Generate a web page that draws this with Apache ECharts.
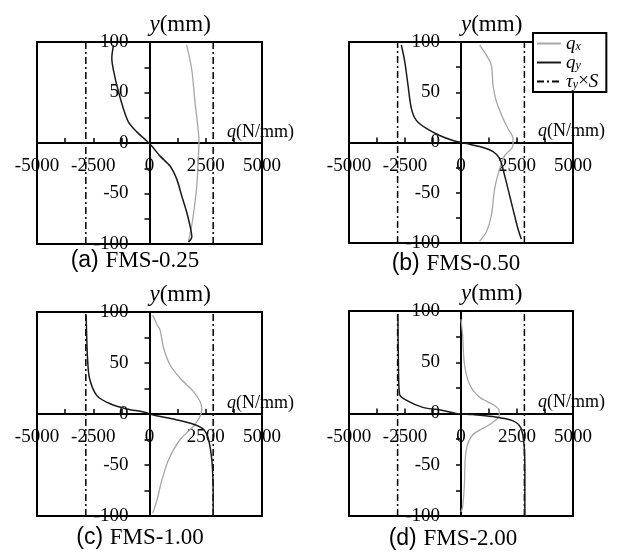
<!DOCTYPE html>
<html><head><meta charset="utf-8">
<script src="https://cdn.jsdelivr.net/npm/echarts@6/dist/echarts.min.js"></script>
<style>html,body{margin:0;padding:0;background:#fff}#c{width:617px;height:554px}</style>
</head><body><div id="c"></div>
<script>
// ---- data ----
const xTicks = [-5000, -2500, 0, 2500, 5000];
const yTicks = [-100, -50, 0, 50, 100];
const tau = 2830;
const captions = ['(a)', '(b)', '(c)', '(d)'];
const specimens = ['FMS-0.25', 'FMS-0.50', 'FMS-1.00', 'FMS-2.00'];

const aQyY = [97, 84, 64, 51, 34, 21, 11, 2, -3, -13, -23, -36, -53, -69, -83, -93, -98];
const aQyQ = [-1600, -1675, -1525, -1380, -1160, -940, -565, -120, 100, 470, 920, 1215, 1440, 1660, 1810, 1880, 1730];
const aQxY = [97, 74, 41, 20, 1, -10, -43, -76, -90, -98];
const aQxQ = [1650, 1870, 2020, 2130, 2200, 2180, 2100, 1920, 1800, 1730];

const bQyY = [97, 81, 57, 34, 22, 14, 7, 2, -1, -4, -9, -16, -33, -53, -73, -86, -96];
const bQyQ = [-2665, -2515, -2366, -2217, -1994, -1548, -952, -357, 238, 833, 1429, 1726, 1949, 2173, 2396, 2545, 2693];
const bQxY = [97, 87, 77, 57, 41, 24, 14, 4, -3, -13, -26, -46, -73, -89, -98];
const bQxQ = [833, 1131, 1354, 1429, 1577, 1875, 2098, 2321, 2321, 1949, 1726, 1503, 1354, 1131, 833];

const cQyY = [97, 75, 55, 35, 18, 10, 5, 2, -1, -5, -10, -15, -25, -45, -65, -85, -100];
const cQyQ = [-2815, -2790, -2755, -2667, -2340, -1750, -1007, -267, 178, 1067, 1955, 2400, 2622, 2770, 2820, 2830, 2830];
const cQxY = [97, 88, 82, 65, 48, 35, 22, 12, 5, -2, -12, -25, -45, -65, -85, -97];
const cQxQ = [148, 326, 474, 622, 918, 1363, 1955, 2252, 2326, 2252, 1955, 1363, 844, 548, 326, 148];

const dQyY = [97, 42, 19, 13, 6, 3, 0, -1, -3, -7, -14, -31, -57, -100];
const dQyQ = [-2819, -2789, -2745, -2448, -1706, -816, -223, 519, 1409, 2300, 2671, 2819, 2850, 2850];
const dQxY = [92, 76, 49, 29, 16, 9, 3, -2, -11, -21, -37, -71, -91, -96];
const dQxQ = [0, 74, 148, 371, 816, 1409, 1706, 1706, 1261, 519, 223, 148, 74, 0];

// ---- build ----
const panels = [
  {qyY: aQyY, qyQ: aQyQ, qxY: aQxY, qxQ: aQxQ, grid: {left: 37, top: 42, width: 225, height: 202}, cap: [135, 261]},
  {qyY: bQyY, qyQ: bQyQ, qxY: bQxY, qxQ: bQxQ, grid: {left: 349, top: 42, width: 224, height: 201}, cap: [456, 264]},
  {qyY: cQyY, qyQ: cQyQ, qxY: cQxY, qxQ: cQxQ, grid: {left: 37, top: 312, width: 225, height: 204}, cap: [140, 538]},
  {qyY: dQyY, qyQ: dQyQ, qxY: dQxY, qxQ: dQxQ, grid: {left: 349, top: 311, width: 224, height: 205}, cap: [453, 539]}
];
const SERIF = '"Liberation Serif", "Times New Roman", serif';
const SANS = '"Liberation Sans", Arial, sans-serif';
const zip = (q, y) => q.map((v, i) => [v, y[i]]);
const grids = [], xAxes = [], yAxes = [], series = [], graphics = [];
const xStep = xTicks[1] - xTicks[0], yStep = yTicks[1] - yTicks[0];
panels.forEach((p, i) => {
  grids.push(Object.assign({show: true, borderColor: '#000', borderWidth: 2, backgroundColor: 'transparent'}, p.grid));
  xAxes.push({
    type: 'value', gridIndex: i, min: xTicks[0], max: xTicks[xTicks.length - 1], interval: xStep / 2,
    position: 'bottom', offset: -p.grid.height / 2,
    axisLine: {onZero: false, lineStyle: {color: '#000', width: 2}},
    axisTick: {inside: true, length: 5, lineStyle: {color: '#000', width: 1.5}},
    axisLabel: {formatter: v => xTicks.includes(v) ? String(v) : '', fontFamily: SERIF, fontSize: 19, color: '#000', margin: 14},
    splitLine: {show: false},
    name: '{i|q}(N/mm)', nameLocation: 'end', nameGap: -35,
    nameTextStyle: {fontFamily: SERIF, fontSize: 18, color: '#000', align: 'left', verticalAlign: 'bottom', padding: [0, 0, 2, 0],
      rich: {i: {fontFamily: SERIF, fontSize: 18, fontStyle: 'italic', color: '#000'}}}
  });
  yAxes.push({
    type: 'value', gridIndex: i, min: yTicks[0], max: yTicks[yTicks.length - 1], interval: yStep / 2,
    position: 'left', offset: -p.grid.width / 2,
    axisLine: {onZero: false, lineStyle: {color: '#000', width: 2}},
    axisTick: {inside: false, length: 5, lineStyle: {color: '#000', width: 1.5}},
    axisLabel: {formatter: v => yTicks.includes(v) ? String(v) : '', fontFamily: SERIF, fontSize: 19, color: '#000', margin: 21},
    splitLine: {show: false},
    name: '{i|y}(mm)', nameLocation: 'end', nameGap: 6,
    nameTextStyle: {fontFamily: SERIF, fontSize: 23, color: '#000', align: 'left', verticalAlign: 'bottom',
      rich: {i: {fontFamily: SERIF, fontSize: 23, fontStyle: 'italic', color: '#000'}}}
  });
  series.push({name: 'qx', type: 'line', xAxisIndex: i, yAxisIndex: i, data: zip(p.qxQ, p.qxY), symbol: 'none', smooth: 0.3,
    lineStyle: {color: '#a6a6a6', width: 1.3}, itemStyle: {color: '#a6a6a6'}, z: 3});
  series.push({name: 'qy', type: 'line', xAxisIndex: i, yAxisIndex: i, data: zip(p.qyQ, p.qyY), symbol: 'none', smooth: 0.3,
    lineStyle: {color: '#1a1a1a', width: 1.5}, itemStyle: {color: '#1a1a1a'}, z: 4});
  [-tau, tau].forEach(t => series.push({name: 'τy×S', type: 'line', xAxisIndex: i, yAxisIndex: i,
    data: [[t, yTicks[0]], [t, yTicks[yTicks.length - 1]]], symbol: 'none',
    lineStyle: {color: '#000', width: 1.5, type: [7, 3, 2, 3]}, itemStyle: {color: '#000'}, z: 2}));
  graphics.push({type: 'text', x: p.cap[0], y: p.cap[1], style: {
    text: '{s|' + captions[i] + '}  {t|' + specimens[i] + '}', textAlign: 'center', textVerticalAlign: 'middle',
    rich: {s: {fontFamily: SANS, fontSize: 23, fill: '#000'}, t: {fontFamily: SERIF, fontSize: 23, fill: '#000'}}}});
});
const legendText = {
  'qx': '{i|q}{sub|x}',
  'qy': '{i|q}{sub|y}',
  'τy×S': '{t|τ}{sub|y}{n|×}{i|S}'
};
const chart = echarts.init(document.getElementById('c'), null, {renderer: 'canvas'});
chart.setOption({
  animation: false,
  backgroundColor: '#fff',
  grid: grids, xAxis: xAxes, yAxis: yAxes, series: series,
  legend: {
    data: ['qx', 'qy', 'τy×S'], orient: 'vertical', left: 533, top: 33,
    itemWidth: 24, itemHeight: 10, itemGap: 0, itemTextGap: 3, padding: [1, 8, 1, 3],
    backgroundColor: '#fff', borderColor: '#000', borderWidth: 2, z: 10,
    itemStyle: {color: 'rgba(0,0,0,0)', borderColor: 'rgba(0,0,0,0)', borderWidth: 0},
    formatter: n => legendText[n],
    textStyle: {fontFamily: SERIF, fontSize: 19, color: '#000',
      rich: {
        i: {fontFamily: SERIF, fontSize: 19, fontStyle: 'italic', color: '#000', lineHeight: 19},
        t: {fontFamily: SERIF, fontSize: 19, fontStyle: 'italic', color: '#000', lineHeight: 19},
        n: {fontFamily: SERIF, fontSize: 19, color: '#000', lineHeight: 19},
        sub: {fontFamily: SERIF, fontSize: 12, fontStyle: 'italic', color: '#000', verticalAlign: 'bottom', lineHeight: 19}
      }}
  },
  graphic: graphics
});
</script></body></html>
